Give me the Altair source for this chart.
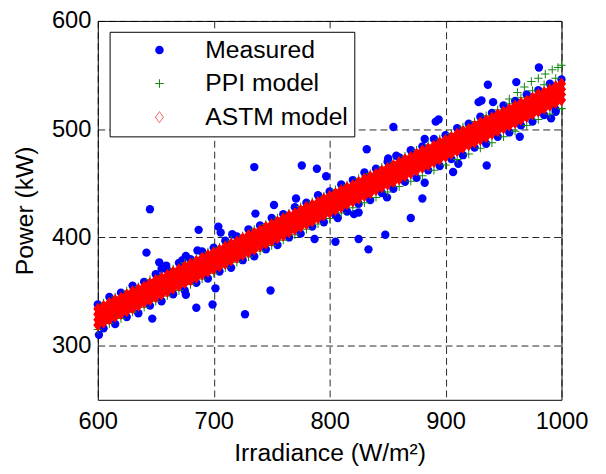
import altair as alt
import pandas as pd

# ---------------- data ----------------
x_a = [600, 610, 620, 630, 640, 650, 660, 670, 680, 690, 700, 710, 720, 730, 740,
       750, 760, 770, 780, 790, 800, 810, 820, 830, 840, 850, 860, 870, 880, 890,
       900, 910, 920, 930, 940, 950, 960, 970, 980, 990, 1000]
x_b = [605, 615, 625, 635, 645, 655, 665, 675, 685, 695, 705, 715, 725, 735, 745,
       755, 765, 775, 785, 795, 805, 815, 825, 835, 845, 855, 865, 875, 885, 895,
       905, 915, 925, 935, 945, 955, 965, 975, 985, 995]

# Measured (blue): upper / lower edge of the dense cloud + scattered outliers
blue_hi = [338, 345, 349, 355.5, 359, 366, 370, 376.5, 380, 387, 390.5, 397, 401, 407.5,
           411, 418, 421.5, 428, 432, 439, 442.5, 449, 453, 460, 463.5, 470, 474, 480.5,
           484, 491, 494.5, 501, 505, 511.5, 515, 522, 526, 532, 536, 542, 546]
blue_lo = [316, 320, 326.5, 330, 337, 341, 347.5, 351, 358, 362, 368.5, 372, 379, 382.5,
           389, 393, 400, 403.5, 410, 414, 420.5, 424, 431, 434.5, 441, 445, 451.5, 455,
           462, 466, 472.5, 476, 483, 486.5, 493, 497, 503.5, 507, 513, 518]
out_x = [601, 642, 653, 655, 659, 647, 685, 699, 701.5, 727, 749, 787, 687, 704, 706,
         686, 673, 676, 676, 716, 736, 645, 735, 776, 789, 797, 771, 752, 855, 891.5,
         894, 832, 935.5, 906.5, 911, 882, 880, 870, 849.5, 848, 833.5, 825, 805, 821,
         825, 807, 964, 980.5, 936.5, 928.5, 931, 961, 941, 995, 991, 882, 850.5, 857.5]
out_y = [310, 386, 377, 371, 374, 325, 335, 338, 353, 329, 351, 398.5, 407, 410, 404.5,
         388, 379, 383, 347, 403, 422, 426, 465, 466.5, 463.5, 456.5, 436, 430, 502, 507,
         509, 481.5, 466.5, 460.5, 468, 450.5, 436, 418, 437, 402.5, 389, 398.5, 396, 421.5,
         423, 418, 493, 557, 541, 525, 526.5, 543.5, 525, 516, 510, 491, 473, 475.5]

# PPI model (green)
green_hi = [339.5, 345, 350.5, 354.5, 361, 365, 371, 376.5, 380.5, 386.5, 391, 397.5, 401.5,
            407.5, 412, 418, 422.5, 428.5, 433, 438, 444, 448.5, 454.5, 459, 465, 469.5,
            475, 480.5, 485.5, 491, 496, 502, 507, 512.5, 518, 523.5, 529, 535.5, 541, 547]
green_lo = [315, 320.5, 325, 331, 335.5, 341, 346, 351, 356.5, 361.5, 367, 372, 377, 382,
            387.5, 392.5, 397.5, 402.5, 407.5, 412.5, 417.5, 422.5, 427.5, 432, 437, 442,
            447, 452, 457, 462, 467, 472, 477, 482.5, 487.5, 493, 498, 503.5, 509, 514, 519]
green_top_x = [955, 962, 968, 974, 980, 986, 992, 997, 1000]
green_top_y = [528, 534, 539, 544, 547, 551, 555, 557, 559]

# ASTM model (red): four rows of the dense band at each of x_a and x_b
red_a_1 = [334, 339.5, 344, 350, 354.5, 360.5, 365, 370.5, 375.5, 381, 386, 391.5, 396, 402,
           406.5, 412, 417.5, 422, 428, 432.5, 438, 443.5, 448, 454, 458.5, 464, 469.5, 474,
           480, 484.5, 490, 495.5, 500, 506, 510.5, 516, 521.5, 526, 532, 536.5, 542]
red_a_2 = [329, 334.5, 339.5, 344.5, 350, 355, 360, 365.5, 370.5, 376, 381, 386, 391.5, 396.5,
           402, 407, 412, 417.5, 422.5, 428, 433, 438, 443.5, 448.5, 454, 459, 464, 469.5,
           474.5, 480, 485, 490, 495.5, 500.5, 506, 511, 516, 521.5, 526.5, 532, 537]
red_a_3 = [324, 329, 334.5, 339.5, 345, 350, 355, 360.5, 365.5, 371, 376, 381, 386.5, 391.5,
           397, 402, 407, 412.5, 417.5, 423, 428, 433, 438.5, 443.5, 449, 454, 459, 464.5,
           469.5, 475, 480, 485, 490.5, 495.5, 501, 506, 511, 516.5, 521.5, 527, 532]
red_a_4 = [319, 324.5, 329.5, 334.5, 340, 345, 350, 355.5, 360.5, 366, 371, 376, 381.5, 386.5,
           392, 397, 402, 407.5, 412.5, 418, 423, 428, 433.5, 438.5, 444, 449, 454, 459.5,
           464.5, 470, 475, 480, 485.5, 490.5, 496, 501, 506, 511.5, 516.5, 522, 527]
red_b_1 = [336.5, 342, 347, 352, 357.5, 362.5, 368, 373, 378, 383.5, 388.5, 394, 399, 404,
           409.5, 414.5, 420, 425, 430, 435.5, 440.5, 446, 451, 456, 461.5, 466.5, 472,
           477, 482, 487.5, 492.5, 498, 503, 508, 513.5, 518.5, 524, 529, 534, 539.5]
red_b_2 = [331.5, 337, 342, 347, 352.5, 357.5, 363, 368, 373, 378.5, 383.5, 389, 394, 399,
           404.5, 409.5, 415, 420, 425, 430.5, 435.5, 441, 446, 451, 456.5, 461.5, 467,
           472, 477, 482.5, 487.5, 493, 498, 503, 508.5, 513.5, 519, 524, 529, 534.5]
red_b_3 = [326.5, 332, 337, 342, 347.5, 352.5, 358, 363, 368, 373.5, 378.5, 384, 389, 394,
           399.5, 404.5, 410, 415, 420, 425.5, 430.5, 436, 441, 446, 451.5, 456.5, 462,
           467, 472, 477.5, 482.5, 488, 493, 498, 503.5, 508.5, 514, 519, 524, 529.5]
red_b_4 = [321.5, 327, 332, 337, 342.5, 347.5, 353, 358, 363, 368.5, 373.5, 379, 384, 389,
           394.5, 399.5, 405, 410, 415, 420.5, 425.5, 431, 436, 441, 446.5, 451.5, 457, 462,
           467, 472.5, 477.5, 483, 488, 493, 498.5, 503.5, 509, 514, 519, 524.5]

series_names = ["Measured", "PPI model", "ASTM model"]
series_colors = ["#0000ff", "#118811", "#ff0000"]
x_ticks = [600, 700, 800, 900, 1000]
y_ticks = [300, 400, 500, 600]

# ---------------- table ----------------
meas_x = x_a + x_b + out_x
meas_y = blue_hi + blue_lo + out_y
ppi_x = x_b + x_a + green_top_x
ppi_y = green_hi + green_lo + green_top_y
astm_x = x_a * 4 + x_b * 4
astm_y = red_a_1 + red_a_2 + red_a_3 + red_a_4 + red_b_1 + red_b_2 + red_b_3 + red_b_4

df = pd.DataFrame({
    "x": meas_x + ppi_x + astm_x,
    "y": meas_y + ppi_y + astm_y,
    "series": [series_names[0]] * len(meas_x)
              + [series_names[1]] * len(ppi_x)
              + [series_names[2]] * len(astm_x),
})

PLUS = ("M-1,-0.12L-0.12,-0.12L-0.12,-1L0.12,-1L0.12,-0.12L1,-0.12L1,0.12L0.12,0.12"
        "L0.12,1L-0.12,1L-0.12,0.12L-1,0.12Z")
RING = ("M0,-1.4L1,0L0,1.4L-1,0Z M0,-1.2L-0.84,0L0,1.2L0.84,0Z")
DIAMOND = "M0,-1.4L1,0L0,1.4L-1,0Z"

FONT = "Liberation Sans"

xenc = alt.X("x:Q", scale=alt.Scale(domain=[600, 1000], nice=False, zero=False),
             axis=alt.Axis(values=x_ticks, title="Irradiance (W/m²)", format="d",
                           labelPadding=10, labelFlush=False, labelOverlap=False,
                           titleY=62, titleBaseline="alphabetic"))
yenc = alt.Y("y:Q", scale=alt.Scale(domain=[250, 600], nice=False, zero=False),
             axis=alt.Axis(values=y_ticks, title="Power (kW)", format="d",
                           labelPadding=7, labelFlush=False, labelOverlap=False,
                           titleX=-66, titleY=192, titleAngle=270,
                           titleBaseline="alphabetic", titleAlign="center"))

legend = alt.Legend(
    title=None, orient="none", legendX=12, legendY=11,
    labelFontSize=25, labelFont=FONT, labelColor="#000",
    symbolSize=75, symbolOpacity=1, symbolStrokeWidth=0,
    padding=6, rowPadding=8, symbolOffset=32, labelOffset=34, labelLimit=400,
    strokeColor="#000", fillColor="#fff", cornerRadius=0,
)

points = alt.Chart(df).mark_point(filled=True, opacity=1, size=72, strokeWidth=0).encode(
    x=xenc, y=yenc,
    color=alt.Color("series:N", scale=alt.Scale(domain=series_names, range=series_colors),
                    legend=legend),
    shape=alt.Shape("series:N", scale=alt.Scale(domain=series_names,
                                                range=["circle", PLUS, RING]),
                    legend=legend),
)

red_fill = alt.Chart(df).transform_filter(alt.datum.series == "ASTM model").mark_point(
    filled=True, opacity=1, size=81, shape=DIAMOND, color="#ff0000", strokeWidth=0
).encode(x="x:Q", y="y:Q")

chart = alt.layer(points, red_fill).properties(
    width=470, height=384,
    background="#ffffff",
    autosize=alt.AutoSizeParams(type="none"),
    padding={"left": 91, "top": 10, "right": 37, "bottom": 66},
).configure_view(
    stroke="#000", strokeWidth=1, fill="#fff"
).configure_axis(
    labelFont=FONT, titleFont=FONT, labelFontSize=24, titleFontSize=25,
    labelColor="#000", titleColor="#000", titleFontWeight="normal",
    domain=False, ticks=True, tickSize=0,
    grid=True, gridColor="#000", gridDash=[7, 4], gridWidth=1, gridOpacity=0.85,
)

chart.save("out.html", embed_options={"renderer": "svg", "actions": False})
